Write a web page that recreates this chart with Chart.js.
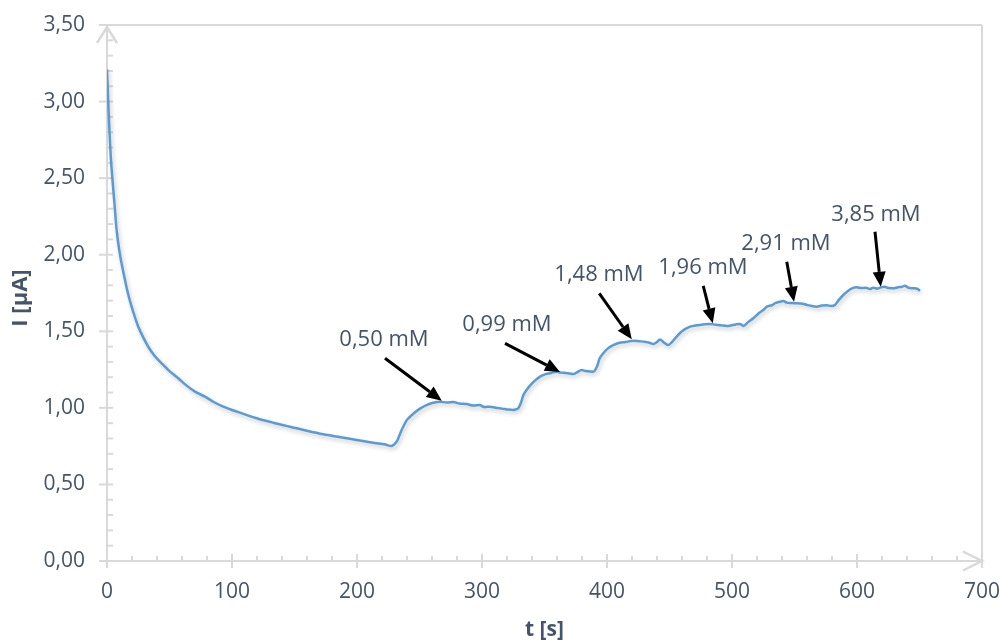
<!DOCTYPE html>
<html>
<head>
<meta charset="utf-8">
<script src="https://cdn.jsdelivr.net/npm/chart.js@4.4.1/dist/chart.umd.min.js"></script>
<style>
html,body{margin:0;padding:0;background:#ffffff;}
#wrap{width:1005px;height:644px;}
</style>
</head>
<body>
<div id="wrap"><canvas id="c" width="1005" height="644"></canvas></div>
<script>
// ---- data ----
const timeS = [0,0.5,1,2,3,4.3,6,7.7,10.4,12,14.4,17,19.7,22,25,29,33,38,43.7,50,57,63,70.4,78.4,85,93,104,119.8,133,146.4,160,173,187,199.8,214,222,227.7,
  229,231.7,236,239.8,242.4,245,250.4,256,261,266.4,272,277,282,287.7,293,298,302,306.4,311,316,320,325,327,329,331,333,335.7,340,346.4,351,354.4,
  359.7,363,367,370,373,376,379.7,383,386,389,392,394,397,401,405,410,415,421,426,431,434,437,440,442.4,445,449,452,455.7,460,466.4,
  472,477,482.4,487,491,495.7,500,503,506.4,509,513,517,521,525,528,532,535,538.4,541,544,547,550.4,555,560,564,567.7,572,576,579,582.4,
  585,589,593,596,599.7,604,607,610.4,613,616,618.4,622,625,629,633,636,638.4,641,645,648,650.4];
const currentUA = [3.21,3.10,3.00,2.80,2.64,2.50,2.33,2.16,2.00,1.93,1.835,1.74,1.661,1.60,1.530,1.46,1.399,1.34,1.291,1.24,1.193,1.15,1.106,1.073,1.040,1.008,0.975,0.932,0.903,0.877,0.850,0.827,0.808,0.790,0.771,0.762,0.751,
  0.757,0.779,0.860,0.920,0.942,0.962,0.995,1.020,1.033,1.040,1.035,1.038,1.028,1.025,1.015,1.018,1.005,1.008,1.000,0.995,0.990,0.986,0.990,0.997,1.030,1.080,1.117,1.160,1.204,1.220,1.226,
  1.236,1.230,1.228,1.225,1.221,1.232,1.247,1.240,1.238,1.236,1.270,1.320,1.356,1.390,1.410,1.425,1.430,1.439,1.435,1.430,1.425,1.417,1.430,1.447,1.430,1.410,1.430,1.465,1.500,1.530,
  1.540,1.545,1.548,1.543,1.540,1.535,1.540,1.545,1.548,1.535,1.560,1.585,1.615,1.639,1.661,1.670,1.685,1.693,1.698,1.687,1.685,1.683,1.682,1.672,1.665,1.661,1.668,1.670,1.665,1.672,
  1.700,1.737,1.765,1.780,1.787,1.782,1.785,1.776,1.785,1.778,1.785,1.790,1.782,1.781,1.788,1.790,1.798,1.785,1.781,1.778,1.765];

const xTickValues = [0,100,200,300,400,500,600,700];
const yTickValues = [0,0.5,1,1.5,2,2.5,3,3.5];
const xTitle = 't [s]';
const yTitle = 'I [µA]';

const noteTexts = ['0,50 mM','0,99 mM','1,48 mM','1,96 mM','2,91 mM','3,85 mM'];
const noteT = [221.6,320,393.6,476.8,543.2,615.2];
const noteI = [1.443,1.541,1.868,1.913,2.070,2.259];
const arrowFromT = [222.4,318.4,393.8,477,543.8,614.4];
const arrowFromI = [1.324,1.421,1.748,1.796,1.954,2.150];
const arrowToT = [267.8,362.4,419.8,484.6,549.6,619.0];
const arrowToI = [1.047,1.234,1.448,1.552,1.693,1.791];

// ---- styling ----
const TEXT_COLOR = '#44546A';
const AXIS_COLOR = '#D9D9D9';
const LINE_COLOR = '#5B9BD5';
const FONT = '"Open Sans", "Liberation Sans", sans-serif';

function fmtY(v){ return v.toFixed(2).replace('.', ','); }

function seg(ctx,x1,y1,x2,y2){ ctx.beginPath(); ctx.moveTo(x1,y1); ctx.lineTo(x2,y2); ctx.stroke(); }

const axesPlugin = {
  id: 'customAxes',
  beforeDatasetsDraw(chart){
    const {ctx, scales:{x,y}} = chart;
    ctx.save();
    ctx.strokeStyle = AXIS_COLOR;
    ctx.lineWidth = 2;
    ctx.lineCap = 'butt';
    const yTop = y.getPixelForValue(3.5);
    const y0 = y.getPixelForValue(0);
    const x0 = x.getPixelForValue(0);
    const xEnd = x.getPixelForValue(700);
    seg(ctx, x0-8, yTop, xEnd, yTop);
    seg(ctx, xEnd, yTop, xEnd, y0+7);
    seg(ctx, x0, y0, xEnd, y0);
    seg(ctx, x0, yTop+2, x0, y0+7);
    for (let v = 0; v <= 700; v += 20) {
      const px = x.getPixelForValue(v);
      if (v % 100 === 0) seg(ctx, px, y0-7, px, y0+7);
      else seg(ctx, px, y0-5, px, y0);
    }
    for (let k = 0; k <= 35; k++) {
      const py = y.getPixelForValue(k/10);
      if (k % 5 === 0) seg(ctx, x0-8, py, x0+6, py);
      else seg(ctx, x0, py, x0+6, py);
    }
    ctx.lineWidth = 2.5;
    ctx.beginPath();
    ctx.moveTo(xEnd-19, y0-9.5); ctx.lineTo(xEnd, y0); ctx.lineTo(xEnd-19, y0+9.5);
    ctx.stroke();
    ctx.beginPath();
    ctx.moveTo(x0-10, yTop+18); ctx.lineTo(x0, yTop+2); ctx.lineTo(x0+10, yTop+18);
    ctx.stroke();
    ctx.fillStyle = TEXT_COLOR;
    ctx.font = 'bold 21px ' + FONT;
    ctx.textAlign = 'center';
    ctx.textBaseline = 'middle';
    ctx.fillText(xTitle, (x0+xEnd)/2, 630);
    ctx.save();
    ctx.translate(21, (yTop+y0)/2 + 5);
    ctx.rotate(-Math.PI/2);
    ctx.font = 'bold 22px ' + FONT;
    ctx.fillText(yTitle, 0, 0);
    ctx.restore();
    ctx.restore();
  },
  afterDatasetsDraw(chart){
    const {ctx, scales:{x,y}} = chart;
    ctx.save();
    ctx.strokeStyle = '#000000';
    ctx.fillStyle = '#000000';
    ctx.lineWidth = 3;
    for (let i = 0; i < noteTexts.length; i++) {
      const x1 = x.getPixelForValue(arrowFromT[i]), y1 = y.getPixelForValue(arrowFromI[i]);
      const x2 = x.getPixelForValue(arrowToT[i]), y2 = y.getPixelForValue(arrowToI[i]);
      const ang = Math.atan2(y2-y1, x2-x1);
      const head = 15, half = 6.5;
      const bx = x2 - head*Math.cos(ang), by = y2 - head*Math.sin(ang);
      seg(ctx, x1, y1, bx, by);
      ctx.beginPath();
      ctx.moveTo(x2, y2);
      ctx.lineTo(bx + half*Math.sin(ang), by - half*Math.cos(ang));
      ctx.lineTo(bx - half*Math.sin(ang), by + half*Math.cos(ang));
      ctx.closePath();
      ctx.fill();
    }
    ctx.fillStyle = TEXT_COLOR;
    ctx.font = '22px ' + FONT;
    ctx.textAlign = 'center';
    ctx.textBaseline = 'middle';
    for (let i = 0; i < noteTexts.length; i++) {
      ctx.fillText(noteTexts[i], x.getPixelForValue(noteT[i]), y.getPixelForValue(noteI[i]));
    }
    ctx.restore();
  }
};

const shadowPlugin = {
  id: 'lineShadow',
  beforeDatasetDraw(chart){
    const ctx = chart.ctx;
    ctx.save();
    ctx.shadowColor = 'rgba(0,0,0,0.22)';
    ctx.shadowBlur = 4;
    ctx.shadowOffsetX = 1.5;
    ctx.shadowOffsetY = 2.5;
  },
  afterDatasetDraw(chart){
    chart.ctx.restore();
  }
};

const points = timeS.map((t, i) => ({x: t, y: currentUA[i]}));

new Chart(document.getElementById('c'), {
  type: 'line',
  data: {
    datasets: [{
      data: points,
      borderColor: LINE_COLOR,
      borderWidth: 2.5,
      pointRadius: 0,
      fill: false,
      cubicInterpolationMode: 'monotone'
    }]
  },
  options: {
    responsive: false,
    animation: false,
    events: [],
    layout: { padding: { top: 25, right: 23, left: 0, bottom: 0 } },
    plugins: { legend: { display: false }, tooltip: { enabled: false } },
    scales: {
      x: {
        type: 'linear', min: 0, max: 700,
        afterBuildTicks: s => { s.ticks = xTickValues.map(v => ({value: v})); },
        afterFit: s => { s.height = 83; s.paddingLeft = 0; s.paddingRight = 0; },
        grid: { display: false, drawTicks: false },
        border: { display: false },
        ticks: { color: TEXT_COLOR, font: { family: FONT, size: 21 }, padding: 18, maxRotation: 0,
          callback: v => String(v) }
      },
      y: {
        type: 'linear', min: 0, max: 3.5,
        afterBuildTicks: s => { s.ticks = yTickValues.map(v => ({value: v})); },
        afterFit: s => { s.width = 107; s.paddingTop = 0; s.paddingBottom = 0; },
        grid: { display: false, drawTicks: false },
        border: { display: false },
        ticks: { color: TEXT_COLOR, font: { family: FONT, size: 21 }, padding: 22,
          callback: v => fmtY(v) }
      }
    }
  },
  plugins: [axesPlugin, shadowPlugin]
});
</script>
</body>
</html>
